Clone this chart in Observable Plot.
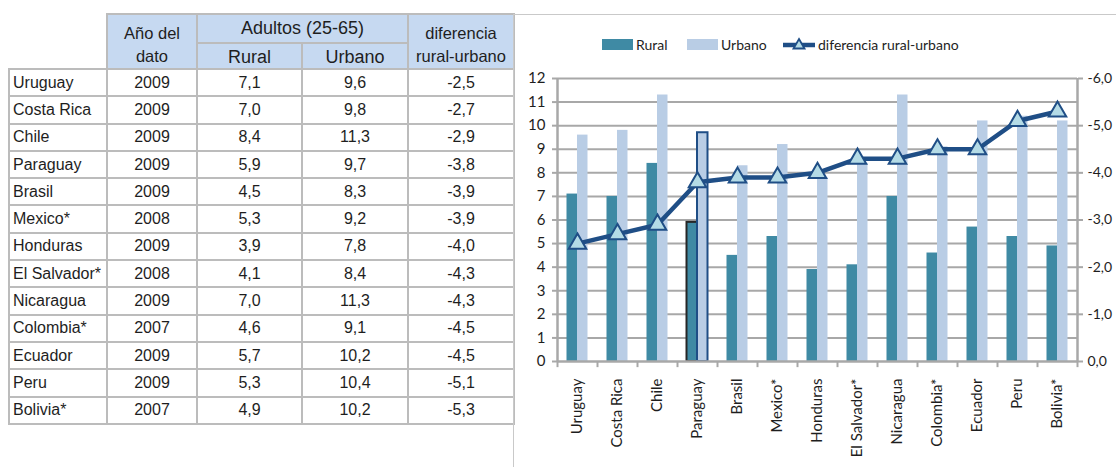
<!DOCTYPE html>
<html><head><meta charset="utf-8">
<script src="https://cdn.jsdelivr.net/npm/d3@7"></script>
<script src="https://cdn.jsdelivr.net/npm/@observablehq/plot@0.6"></script>
<style>
html,body{margin:0;padding:0;background:#fff;}
body{width:1116px;height:467px;overflow:hidden;position:relative;}
#tbl{position:absolute;left:8px;top:13px;border-collapse:collapse;table-layout:fixed;width:505px;
  font-family:"Liberation Sans",Arial,sans-serif;color:#1e1e1e;font-size:16px;}
#tbl td,#tbl th{border:2px solid #bcbcbc;padding:0;text-align:center;font-weight:normal;white-space:nowrap;overflow:hidden;}
#tbl th{background:#c6d9f1;}
#tbl th.blank{background:none;border:none;}
#tbl td.name{text-align:left;padding-left:3px;}
#tbl tr.h1{height:29px;}
#tbl tr.h2{height:25px;}
#tbl tr.d{height:27.3px;}
#tbl th.big{font-size:18px;}
#tbl tr.h2 th.big{padding-top:3px;}
#tbl th.small{font-size:16.5px;line-height:23px;padding-top:7px;}
#panel{position:absolute;left:513px;top:14px;width:700px;height:500px;border-left:1.5px solid #c9c9c9;border-top:1.5px solid #c9c9c9;}
#chart{position:absolute;left:514px;top:0px;}
#legend{position:absolute;left:0;top:0;font-family:Lato,"Open Sans",sans-serif;font-size:14px;color:#1e1e1e;}
#legend .it{position:absolute;top:36px;display:flex;align-items:center;white-space:nowrap;}
#legend .sw{display:inline-block;width:31px;height:11px;margin-right:3px;}
</style>
</head><body>
<table id="tbl"></table>
<div id="panel"></div>
<div id="chart"></div>
<div id="legend"></div>
<script>
const countries = ["Uruguay","Costa Rica","Chile","Paraguay","Brasil","Mexico*","Honduras","El Salvador*","Nicaragua","Colombia*","Ecuador","Peru","Bolivia*"];
const years = [2009,2009,2009,2009,2009,2008,2009,2008,2009,2007,2009,2009,2007];
const rural = [7.1,7.0,8.4,5.9,4.5,5.3,3.9,4.1,7.0,4.6,5.7,5.3,4.9];
const urbano = [9.6,9.8,11.3,9.7,8.3,9.2,7.8,8.4,11.3,9.1,10.2,10.4,10.2];
const diferencia = [-2.5,-2.7,-2.9,-3.8,-3.9,-3.9,-4.0,-4.3,-4.3,-4.5,-4.5,-5.1,-5.3];
const highlighted = "Paraguay";
const leftTicks = [0,1,2,3,4,5,6,7,8,9,10,11,12];
const rightTicks = [0,-1,-2,-3,-4,-5,-6];
const gridLines = [1,2,3,4,5,6,7,8,9,10,11,12];
const seriesNames = ["Rural","Urbano","diferencia rural-urbano"];

const fmt1 = v => v.toFixed(1).replace(".", ",");

// ---- table ----
const tbl = document.getElementById("tbl");
let html = `<colgroup><col style="width:98px"><col style="width:90px"><col style="width:105px"><col style="width:106px"><col style="width:106px"></colgroup>`;
html += `<tr class="h1"><th class="blank" rowspan="2"></th><th class="small" rowspan="2">Año del<br>dato</th><th class="big" colspan="2">Adultos (25-65)</th><th class="small" rowspan="2">diferencia<br>rural-urbano</th></tr>`;
html += `<tr class="h2"><th class="big">Rural</th><th class="big">Urbano</th></tr>`;
countries.forEach((c,i) => {
  html += `<tr class="d"><td class="name">${c}</td><td>${years[i]}</td><td>${fmt1(rural[i])}</td><td>${fmt1(urbano[i])}</td><td>${fmt1(diferencia[i])}</td></tr>`;
});
tbl.innerHTML = html;

// ---- chart ----
const rows = countries.map((c,i) => ({country:c, rural:rural[i], urbano:urbano[i], dif:diferencia[i]}));
const toLeft = v => -v * 2; // secondary axis (0 .. -6) onto primary (0 .. 12)
const cRural = "#3f8aa4", cUrb = "#b9cde5", cLine = "#1f4e86", cMark = "#b4dbe6", cAxis = "#a8a8a8";
const first = countries[0], last = countries[countries.length-1];

const chart = Plot.plot({
  width: 602, height: 467,
  marginLeft: 43, marginRight: 39, marginTop: 78, marginBottom: 106,
  style: {fontFamily: "Lato, 'Open Sans', sans-serif", fontSize: "15px", color: "#1e1e1e", background: "transparent"},
  x: {domain: countries, padding: 0, axis: null},
  y: {domain: [0, 12], axis: null},
  marks: [
    Plot.ruleY(gridLines, {stroke: cAxis, strokeWidth: 2}),
    Plot.barY(rows, {x: "country", y: "rural", fill: cRural, insetLeft: 9.5, insetRight: 20}),
    Plot.barY(rows, {x: "country", y: "urbano", fill: cUrb, insetLeft: 20, insetRight: 9.5}),
    Plot.barY(rows.filter(d => d.country === highlighted), {x: "country", y: "rural", fill: "none", stroke: "#262626", strokeWidth: 2, insetLeft: 9.5, insetRight: 20}),
    Plot.barY(rows.filter(d => d.country === highlighted), {x: "country", y: "urbano", fill: "none", stroke: cLine, strokeWidth: 2, insetLeft: 20, insetRight: 9.5}),
    // axes lines
    Plot.ruleY([0], {stroke: cAxis, strokeWidth: 2.5}),
    Plot.ruleX([first], {x: d => d, dx: -20, y1: 0, y2: 12, stroke: cAxis, strokeWidth: 2.5}),
    Plot.ruleX([last], {x: d => d, dx: 20, y1: 0, y2: 12, stroke: cAxis, strokeWidth: 2.5}),
    // category ticks at band boundaries
    Plot.ruleX(countries, {x: d => d, dx: -20, y1: 0, y2: -0.26, stroke: cAxis, strokeWidth: 2}),
    Plot.ruleX([last], {x: d => d, dx: 20, y1: 0, y2: -0.26, stroke: cAxis, strokeWidth: 2}),
    Plot.axisY(leftTicks, {anchor: "left", tickSize: 5, tickPadding: 7, stroke: cAxis, strokeWidth: 2, fill: "#1e1e1e", label: null}),
    Plot.axisY(rightTicks.map(toLeft), {anchor: "right", tickSize: 5, tickPadding: 5, stroke: cAxis, strokeWidth: 2, fill: "#1e1e1e", fontSize: 14, label: null,
      tickFormat: v => v === 0 ? "0,0" : "-" + fmt1(v / 2)}),
    Plot.axisX(countries, {anchor: "bottom", tickSize: 0, tickPadding: 17, tickRotate: -90, fill: "#1e1e1e", fontSize: 15, label: null}),
    // difference line
    Plot.line(rows, {x: "country", y: d => toLeft(d.dif), stroke: cLine, strokeWidth: 4.5}),
    Plot.dot(rows, {x: "country", y: d => toLeft(d.dif), symbol: "triangle", r: 6.5, fill: cMark, stroke: cLine, strokeWidth: 2})
  ]
});
document.getElementById("chart").append(chart);

// ---- legend ----
const lg = document.getElementById("legend");
lg.innerHTML =
  `<div class="it" style="left:602px"><span class="sw" style="background:${cRural}"></span>${seriesNames[0]}</div>` +
  `<div class="it" style="left:687px"><span class="sw" style="background:${cUrb}"></span>${seriesNames[1]}</div>` +
  `<div class="it" style="left:782px"><svg width="34" height="16" style="margin-right:2px"><line x1="1" y1="8" x2="33" y2="8" stroke="${cLine}" stroke-width="4.5"/><path d="M17,2 L22.5,11.5 L11.5,11.5 Z" fill="${cMark}" stroke="${cLine}" stroke-width="1.8"/></svg>${seriesNames[2]}</div>`;
</script>
</body></html>
